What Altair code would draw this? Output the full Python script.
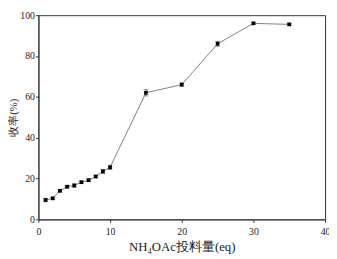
import altair as alt
import pandas as pd

eq = [1, 2, 3, 4, 5, 6, 7, 8, 9, 10, 15, 20, 25, 30, 35]
yield_pct = [9.5, 10.3, 14.0, 16.0, 16.6, 18.2, 19.2, 21.0, 23.5, 25.5, 62.0, 66.0, 86.0, 96.0, 95.5]
err = [0.8, 0.6, 0.6, 0.6, 0.8, 0.6, 0.6, 0.6, 1.0, 1.0, 1.5, 0.8, 1.2, 0.5, 0.5]

df = pd.DataFrame({"eq": eq, "y": yield_pct, "err": err})
df["lo"] = df["y"] - df["err"]
df["hi"] = df["y"] + df["err"]

FONT = "Liberation Serif"
xticks = [i * 2.5 for i in range(17)]
yticks = [i * 10 for i in range(11)]

x = alt.X("eq:Q", scale=alt.Scale(domain=[0, 40], nice=False),
          axis=alt.Axis(title="NH\u2084OAc投料量(eq)", values=xticks,
                        labelExpr="datum.value % 5 === 0 ? datum.label : ''",
                        tickSize={"condition": {"test": "datum.value % 5 === 0", "value": 3}, "value": 2},
                        grid=False, labelFlush=False, labelPadding=4, titlePadding=5,
                        titleFontSize=13))
y = alt.Y("y:Q", scale=alt.Scale(domain=[0, 100], nice=False),
          axis=alt.Axis(title="收率(%)", values=yticks,
                        labelExpr="datum.value % 20 === 0 ? datum.label : ''",
                        tickSize={"condition": {"test": "datum.value % 20 === 0", "value": 3}, "value": 2},
                        grid=False, labelFlush=False, labelPadding=1, titlePadding=1,
                        titleFontSize=11))

base = alt.Chart(df)
line = base.mark_line(color="#808080", strokeWidth=1).encode(x=x, y=y)
bars = base.mark_rule(color="#606060", strokeWidth=1).encode(x="eq:Q", y="lo:Q", y2="hi:Q")
caps_lo = base.mark_tick(color="#606060", size=5, thickness=1, orient="horizontal").encode(x="eq:Q", y="lo:Q")
caps_hi = base.mark_tick(color="#606060", size=5, thickness=1, orient="horizontal").encode(x="eq:Q", y="hi:Q")
pts = base.mark_square(color="black", size=14, opacity=1).encode(x="eq:Q", y="y:Q")

chart = alt.layer(line, bars, caps_lo, caps_hi, pts).properties(
    width=292, height=208,
    autosize=alt.AutoSizeParams(type="none"),
    padding={"left": 31, "top": 5, "right": 4, "bottom": 36},
).configure_view(stroke="#333333", strokeWidth=1).configure_axis(
    domainColor="#333333", tickColor="#333333", labelFont=FONT, titleFont=FONT,
    labelFontSize=10, titleFontSize=12, labelColor="#222222", titleColor="#222222",
    titleFontWeight="normal",
)

chart.save("out.html", embed_options={"renderer": "svg", "actions": False})
